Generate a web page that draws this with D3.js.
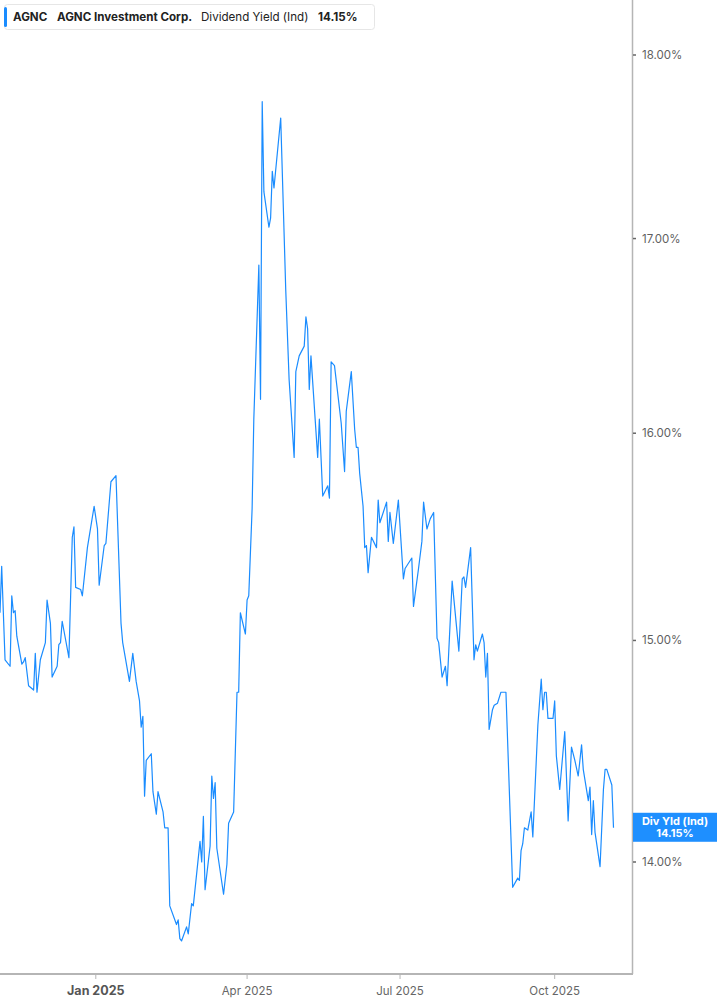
<!DOCTYPE html>
<html><head><meta charset="utf-8">
<script src="https://cdn.jsdelivr.net/npm/d3@7/dist/d3.min.js"></script>
<style>
html,body{margin:0;padding:0;background:#fff;}
svg{display:block;font-family:Inter,"Noto Sans",sans-serif;}
</style></head>
<body>
<svg id="chart" width="717" height="1005"></svg>
<script>
const dates = ["2024-11-05","2024-11-06","2024-11-08","2024-11-11","2024-11-12","2024-11-13","2024-11-14","2024-11-15","2024-11-18","2024-11-19","2024-11-20","2024-11-22","2024-11-25","2024-11-26","2024-11-27","2024-11-29","2024-12-02","2024-12-03","2024-12-05","2024-12-06","2024-12-09","2024-12-10","2024-12-11","2024-12-12","2024-12-16","2024-12-18","2024-12-19","2024-12-20","2024-12-23","2024-12-24","2024-12-27","2024-12-31","2025-01-02","2025-01-03","2025-01-06","2025-01-07","2025-01-10","2025-01-13","2025-01-16","2025-01-17","2025-01-21","2025-01-23","2025-01-25","2025-01-27","2025-01-28","2025-01-29","2025-01-30","2025-01-31","2025-02-03","2025-02-04","2025-02-06","2025-02-07","2025-02-10","2025-02-11","2025-02-13","2025-02-14","2025-02-18","2025-02-19","2025-02-20","2025-02-21","2025-02-24","2025-02-25","2025-02-27","2025-02-28","2025-03-04","2025-03-05","2025-03-06","2025-03-07","2025-03-10","2025-03-11","2025-03-12","2025-03-13","2025-03-14","2025-03-18","2025-03-20","2025-03-21","2025-03-24","2025-03-26","2025-03-27","2025-03-28","2025-03-31","2025-04-01","2025-04-02","2025-04-04","2025-04-05","2025-04-08","2025-04-09","2025-04-10","2025-04-11","2025-04-14","2025-04-15","2025-04-16","2025-04-17","2025-04-21","2025-04-24","2025-04-26","2025-04-29","2025-04-30","2025-05-02","2025-05-05","2025-05-06","2025-05-07","2025-05-08","2025-05-09","2025-05-13","2025-05-14","2025-05-16","2025-05-19","2025-05-20","2025-05-21","2025-05-23","2025-05-27","2025-05-29","2025-05-30","2025-06-02","2025-06-04","2025-06-05","2025-06-06","2025-06-07","2025-06-09","2025-06-10","2025-06-11","2025-06-12","2025-06-14","2025-06-17","2025-06-18","2025-06-19","2025-06-23","2025-06-24","2025-06-25","2025-06-27","2025-06-30","2025-07-03","2025-07-04","2025-07-08","2025-07-09","2025-07-12","2025-07-14","2025-07-15","2025-07-17","2025-07-19","2025-07-21","2025-07-23","2025-07-24","2025-07-26","2025-07-28","2025-07-29","2025-08-01","2025-08-05","2025-08-07","2025-08-08","2025-08-09","2025-08-12","2025-08-14","2025-08-15","2025-08-16","2025-08-19","2025-08-20","2025-08-21","2025-08-22","2025-08-23","2025-08-25","2025-08-26","2025-08-28","2025-08-30","2025-09-02","2025-09-06","2025-09-09","2025-09-10","2025-09-11","2025-09-12","2025-09-13","2025-09-15","2025-09-17","2025-09-18","2025-09-21","2025-09-23","2025-09-24","2025-09-25","2025-09-26","2025-09-27","2025-09-30","2025-10-01","2025-10-02","2025-10-04","2025-10-07","2025-10-09","2025-10-11","2025-10-13","2025-10-15","2025-10-17","2025-10-18","2025-10-21","2025-10-22","2025-10-23","2025-10-24","2025-10-25","2025-10-28","2025-10-30","2025-10-31","2025-11-01","2025-11-04","2025-11-05"];
const yields = [15.13,15.35,14.91,14.88,15.21,15.13,15.14,15.02,14.89,14.90,14.92,14.79,14.77,14.94,14.76,14.91,14.99,15.19,15.08,14.83,14.88,14.98,14.99,15.09,14.92,15.49,15.54,15.25,15.24,15.21,15.44,15.64,15.53,15.26,15.45,15.46,15.76,15.79,15.08,14.99,14.81,14.94,14.81,14.72,14.60,14.65,14.29,14.45,14.48,14.31,14.21,14.31,14.22,14.15,14.15,13.81,13.73,13.75,13.67,13.66,13.72,13.69,13.82,13.81,14.09,14.00,14.20,13.88,14.07,14.38,14.28,14.35,14.06,13.86,13.99,14.17,14.22,14.76,14.76,15.13,15.03,15.19,15.21,15.63,16.07,16.86,16.17,17.74,17.25,17.06,17.11,17.36,17.27,17.65,16.73,16.27,15.88,16.31,16.39,16.44,16.59,16.53,16.22,16.39,15.88,16.07,15.69,15.74,15.68,16.36,16.34,16.05,15.81,16.11,16.31,16.02,15.93,15.93,15.80,15.64,15.44,15.45,15.32,15.49,15.44,15.67,15.56,15.66,15.47,15.61,15.46,15.67,15.29,15.34,15.39,15.16,15.34,15.47,15.66,15.53,15.58,15.61,15.01,14.99,14.83,14.88,14.79,15.28,14.95,15.29,15.30,15.25,15.44,14.91,14.98,14.95,15.03,14.99,14.83,14.94,14.59,14.68,14.70,14.71,14.76,14.76,13.89,13.93,13.92,14.05,14.08,14.15,14.14,14.22,14.11,14.61,14.82,14.68,14.76,14.76,14.64,14.64,14.72,14.47,14.32,14.58,14.18,14.51,14.45,14.38,14.52,14.41,14.27,14.33,14.12,14.27,14.13,13.98,14.32,14.41,14.41,14.34,14.15];
const yTicks = [14, 15, 16, 17, 18];
const xTickDates = ["2025-01-01","2025-04-01","2025-07-01","2025-10-01"];
const xTickLabels = ["Jan 2025","Apr 2025","Jul 2025","Oct 2025"];
const legendParts = ["AGNC","AGNC Investment Corp.","Dividend Yield (Ind)","14.15%"];
const lastLabel = ["Div Yld (Ind)","14.15%"];

const parse = d3.timeParse("%Y-%m-%d");
const data = dates.map((d,i)=>({date:parse(d), v:yields[i]}));

const svg = d3.select("#chart");
const plotRight = 632, plotBottom = 974;
const x = d3.scaleTime().domain([parse("2024-11-05"), parse("2025-11-16")]).range([0, plotRight]);
const y = d3.scaleLog().domain([14, 18]).range([862, 55]);

// axes lines
svg.append("line").attr("x1",plotRight+0.5).attr("x2",plotRight+0.5).attr("y1",0).attr("y2",plotBottom)
  .attr("stroke","#b5b5b5").attr("stroke-width",1.5);
svg.append("line").attr("x1",0).attr("x2",plotRight+1).attr("y1",plotBottom).attr("y2",plotBottom)
  .attr("stroke","#b5b5b5").attr("stroke-width",2);

// y ticks
const yg = svg.append("g");
yTicks.forEach(t=>{
  yg.append("line").attr("x1",plotRight+1).attr("x2",plotRight+4).attr("y1",y(t)).attr("y2",y(t))
    .attr("stroke","#666").attr("stroke-width",1.5);
  yg.append("text").attr("x",642).attr("y",y(t)).attr("dy","0.35em")
    .attr("font-size",11.5).attr("fill","#5f5f5f").text(d3.format(".2f")(t)+"%");
});

// x ticks
xTickDates.forEach((d,i)=>{
  const xx = x(parse(d));
  svg.append("line").attr("x1",xx).attr("x2",xx).attr("y1",plotBottom).attr("y2",plotBottom+5)
    .attr("stroke","#b5b5b5").attr("stroke-width",1);
  svg.append("text").attr("x",xx).attr("y",995).attr("text-anchor","middle")
    .attr("font-size", i===0?12.5:11.5).attr("font-weight", i===0?"700":"400")
    .attr("fill", i===0?"#555":"#666").text(xTickLabels[i]);
});

// line
svg.append("path").datum(data)
  .attr("fill","none").attr("stroke","#1a8cff").attr("stroke-width",1.2).attr("stroke-linejoin","round")
  .attr("d", d3.line().x(d=>x(d.date)).y(d=>y(d.v)));

// legend
const lg = svg.append("g");
lg.append("rect").attr("x",4.5).attr("y",4.5).attr("width",370).attr("height",25).attr("rx",3)
  .attr("fill","#fff").attr("stroke","#e6e6e6");
lg.append("rect").attr("x",4).attr("y",7).attr("width",3).attr("height",20).attr("rx",1.5).attr("fill","#1a8cff");
const lt = lg.append("text").attr("x",13).attr("y",21).attr("font-size",11.6).attr("fill","#222");
lt.append("tspan").attr("font-weight","700").text(legendParts[0]);
lt.append("tspan").attr("x",57).attr("font-weight","700").text(legendParts[1]);
lt.append("tspan").attr("x",201).attr("font-weight","400").text(legendParts[2]);
lt.append("tspan").attr("x",318).attr("font-weight","700").text(legendParts[3]);

// last value label
const lastV = yields[yields.length-1];
const ly = y(lastV);
const lbl = svg.append("g");
lbl.append("rect").attr("x",633).attr("y",ly-15).attr("width",84).attr("height",29).attr("fill","#1e8fff");
lbl.append("text").attr("x",675).attr("y",ly-3).attr("text-anchor","middle").attr("font-size",11)
  .attr("font-weight","700").attr("fill","#fff").text(lastLabel[0]);
lbl.append("text").attr("x",675).attr("y",ly+9).attr("text-anchor","middle").attr("font-size",11)
  .attr("font-weight","700").attr("fill","#fff").text(lastLabel[1]);
</script>
</body></html>
